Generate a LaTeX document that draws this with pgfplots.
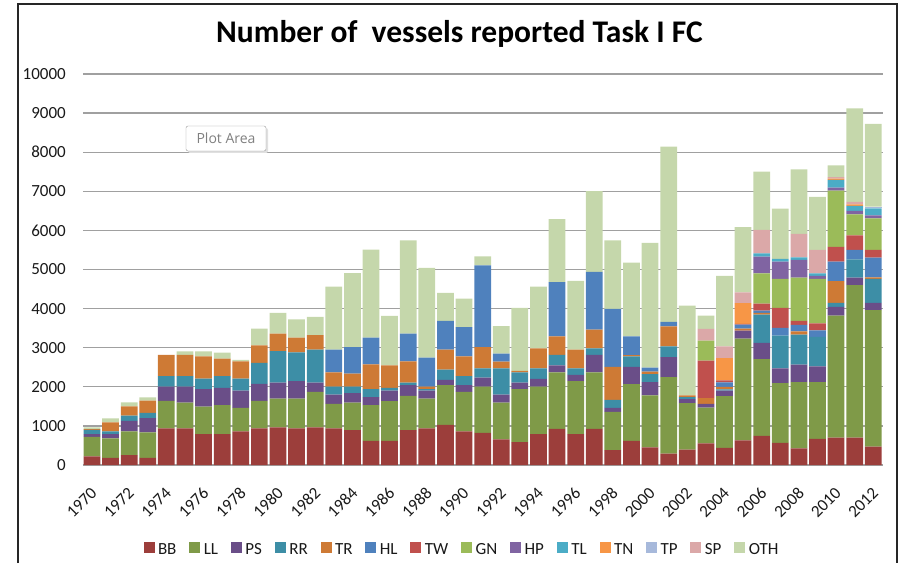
\documentclass[border=0pt]{standalone}
\usepackage{fontspec}
\setmainfont{Carlito}
\newfontfamily\tipfont{Open Sans}
\usepackage{pgfplots}
\usepackage{pgfplotstable}
\pgfplotsset{compat=1.18}

\definecolor{cBB}{HTML}{9C3E3B}
\definecolor{cLL}{HTML}{7F9A48}
\definecolor{cPS}{HTML}{6A4E88}
\definecolor{cRR}{HTML}{3D8EA6}
\definecolor{cTR}{HTML}{CE7A35}
\definecolor{cHL}{HTML}{4F81BD}
\definecolor{cTW}{HTML}{C0504D}
\definecolor{cGN}{HTML}{9BBB59}
\definecolor{cHP}{HTML}{8064A2}
\definecolor{cTL}{HTML}{4BACC6}
\definecolor{cTN}{HTML}{F79646}
\definecolor{cTP}{HTML}{A7B9DB}
\definecolor{cSP}{HTML}{DBA8A8}
\definecolor{cOTH}{HTML}{C5D7AB}
\definecolor{gridc}{HTML}{A0A0A0}

\pgfplotstableread{
year BB LL PS RR TR HL TW GN HP TL TN TP SP OTH
1970 220 500 70 110 20 0 0 0 0 0 0 0 0 40
1971 180 500 110 70 230 0 0 0 0 0 0 0 0 100
1972 255 605 270 130 240 0 0 0 0 0 0 0 0 100
1973 180 655 365 130 315 0 0 0 0 0 0 0 0 85
1974 935 705 365 265 545 0 0 0 0 0 0 0 0 0
1975 935 663 408 264 545 0 0 0 0 0 0 0 0 94
1976 790 706 442 272 570 0 0 0 0 0 0 0 0 127
1977 790 740 442 298 450 0 0 0 0 0 0 0 0 153
1978 858 604 442 306 442 0 0 0 0 0 0 0 0 34
1979 935 705 434 536 450 0 0 0 0 0 0 0 0 425
1980 960 740 408 807 442 0 0 0 0 0 0 0 0 536
1981 935 765 442 739 374 0 0 0 0 0 0 0 0 468
1982 960 910 238 842 373 0 0 0 0 0 0 0 0 468
1983 935 629 238 204 366 578 0 0 0 0 0 0 0 1615
1984 892 706 238 170 332 679 0 0 0 0 0 0 0 1888
1985 620 910 204 204 638 679 0 0 0 0 0 0 0 2253
1986 620 1012 272 68 578 0 0 0 0 0 0 0 0 1267
1987 892 876 272 68 544 705 0 0 0 0 0 0 0 2389
1988 935 765 204 34 68 741 0 0 0 0 0 0 0 2293
1989 1028 1012 136 264 510 739 0 0 0 0 0 0 0 714
1990 858 1012 170 230 510 747 0 0 0 0 0 0 0 731
1991 824 1182 230 238 543 2091 0 0 0 0 0 0 0 230
1992 654 944 204 672 170 204 0 0 0 0 0 0 0 705
1993 586 1352 170 264 34 0 0 0 0 0 0 0 0 1614
1994 790 1216 196 272 509 0 0 0 0 0 0 0 0 1582
1995 926 1446 178 264 476 1385 0 0 0 0 0 0 0 1615
1996 790 1352 162 170 476 0 0 0 0 0 0 0 0 1759
1997 926 1446 442 169 477 1478 0 0 0 0 0 0 0 2066
1998 382 978 102 204 842 1487 0 0 0 0 0 0 0 1751
1999 620 1446 442 272 33 476 0 0 0 0 0 0 0 1888
2000 453 1325 342 206 59 103 0 0 0 0 0 0 0 3190
2001 291 1958 513 273 513 111 0 0 0 0 0 0 0 4484
2002 393 1189 102 52 42 0 0 0 0 0 0 0 0 2300
2003 556 914 95 0 145 0 958 513 0 0 0 0 299 342
2004 435 1325 145 30 60 120 50 0 0 0 570 0 300 1800
2005 633 2599 205 0 50 100 25 0 0 0 530 0 270 1670
2006 744 1966 411 727 42 60 180 773 426 86 0 0 597 1492
2007 564 1531 376 838 0 197 513 739 443 68 0 0 0 1287
2008 428 1692 445 770 85 162 103 1107 452 68 0 0 597 1654
2009 667 1453 402 753 0 171 179 1133 77 68 0 0 597 1356
2010 701 3121 222 103 556 499 375 1441 76 197 30 0 40 305
2011 701 3899 192 469 0 239 375 537 85 128 43 0 60 2396
2012 470 3488 189 611 43 503 196 810 77 179 0 42 0 2115
}\vessels

\begin{document}
\begin{tikzpicture}
\path[use as bounding box] (0pt,0pt) rectangle (903pt,563pt);
\draw[line width=2pt, black!85] (18pt,0pt) -- (18pt,559pt) -- (897pt,559pt) -- (897pt,0pt);
\node[font=\bfseries\fontsize{31.5}{31.5}\selectfont, text=black] at (459.5pt,529pt) {Number of~ vessels reported Task I FC};
\begin{axis}[
  at={(83pt,98pt)}, anchor=south west,
  scale only axis, width=800pt, height=391pt,
  ybar stacked, bar width=0.9,
  xmin=1969.52, xmax=2012.52,
  ymin=0, ymax=10000,
  xtick={1970,1972,...,2012},
  ytick={0,1000,...,10000},
  scaled y ticks=false,
  /pgf/number format/1000 sep={},
  /pgf/number format/assume math mode=true,
  axis lines*=left,
  y axis line style={draw=none},
  x axis line style={draw=gridc, line width=1.3pt},
  major tick length=0pt,
  ymajorgrids, grid style={draw=gridc, line width=1.3pt},
  ticklabel style={font=\fontsize{17}{17}\selectfont, text=black!90},
  yticklabel style={anchor=east, inner sep=0pt, xshift=-17pt},
  xticklabel style={inner sep=0pt, xshift=-2pt, yshift=-21pt, rotate=45, anchor=north east},
  legend columns=14,
  legend style={at={(0.4725,-0.215)}, anchor=center, draw=none, fill=none,
    font=\fontsize{17}{17}\selectfont, text=black!90,
    nodes={inner sep=0pt},
    /tikz/every odd column/.append style={column sep=3.5pt},
    /tikz/every even column/.append style={column sep=12.8pt}},
  legend image code/.code={\fill[#1,draw=none] (0pt,-3pt) rectangle (11pt,8pt);},
  every axis plot/.append style={draw=none},
]
\addplot[fill=cBB] table[x=year,y=BB] {\vessels};
\addplot[fill=cLL] table[x=year,y=LL] {\vessels};
\addplot[fill=cPS] table[x=year,y=PS] {\vessels};
\addplot[fill=cRR] table[x=year,y=RR] {\vessels};
\addplot[fill=cTR] table[x=year,y=TR] {\vessels};
\addplot[fill=cHL] table[x=year,y=HL] {\vessels};
\addplot[fill=cTW] table[x=year,y=TW] {\vessels};
\addplot[fill=cGN] table[x=year,y=GN] {\vessels};
\addplot[fill=cHP] table[x=year,y=HP] {\vessels};
\addplot[fill=cTL] table[x=year,y=TL] {\vessels};
\addplot[fill=cTN] table[x=year,y=TN] {\vessels};
\addplot[fill=cTP] table[x=year,y=TP] {\vessels};
\addplot[fill=cSP] table[x=year,y=SP] {\vessels};
\addplot[fill=cOTH] table[x=year,y=OTH] {\vessels};
\legend{BB,LL,PS,RR,TR,HL,TW,GN,HP,TL,TN,TP,SP,OTH}
\end{axis}
\fill[black!12, rounded corners=2pt] (188pt,410pt) rectangle (268pt,435pt);
\draw[rounded corners=2pt, draw=black!40, fill=white] (186pt,412pt) rectangle (266pt,437pt);
\node[font=\tipfont\fontsize{14}{14}\selectfont, text=black!50] at (226pt,424.5pt) {Plot Area};
\end{tikzpicture}
\end{document}
